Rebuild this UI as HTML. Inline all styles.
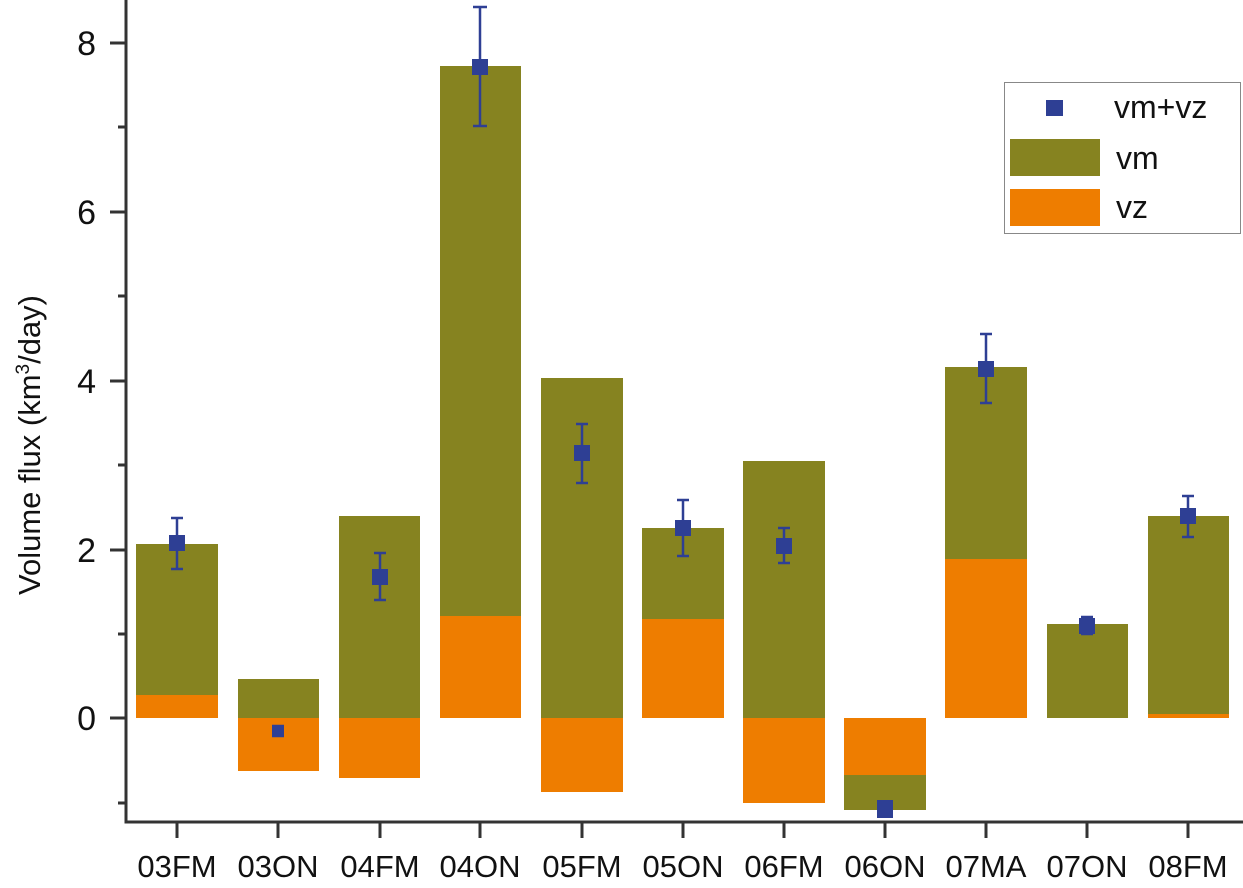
<!DOCTYPE html>
<html><head><style>body{margin:0;background:#fff}svg{display:block}text{font-family:"Liberation Sans",sans-serif;fill:#111}</style></head>
<body>
<svg width="1243" height="888" viewBox="0 0 1243 888">
<g stroke="none">
<rect x="136" y="544" width="82" height="151" fill="#868320"/><rect x="136" y="695" width="82" height="23" fill="#EE7D00"/>
<rect x="238" y="679" width="81" height="39" fill="#868320"/><rect x="238" y="718" width="81" height="53" fill="#EE7D00"/>
<rect x="339" y="516" width="81" height="202" fill="#868320"/><rect x="339" y="718" width="81" height="60" fill="#EE7D00"/>
<rect x="440" y="66" width="81" height="550" fill="#868320"/><rect x="440" y="616" width="81" height="102" fill="#EE7D00"/>
<rect x="541" y="378" width="82" height="340" fill="#868320"/><rect x="541" y="718" width="82" height="74" fill="#EE7D00"/>
<rect x="642" y="528" width="82" height="91" fill="#868320"/><rect x="642" y="619" width="82" height="99" fill="#EE7D00"/>
<rect x="743" y="461" width="82" height="257" fill="#868320"/><rect x="743" y="718" width="82" height="85" fill="#EE7D00"/>
<rect x="844" y="718" width="82" height="57" fill="#EE7D00"/><rect x="844" y="775" width="82" height="35" fill="#868320"/>
<rect x="945" y="367" width="82" height="192" fill="#868320"/><rect x="945" y="559" width="82" height="159" fill="#EE7D00"/>
<rect x="1047" y="624" width="81" height="94" fill="#868320"/>
<rect x="1148" y="516" width="81" height="198" fill="#868320"/><rect x="1148" y="714" width="81" height="4" fill="#EE7D00"/>
</g>
<g stroke="#2E3F94" stroke-width="2.5">
<path d="M177 518V569M171 518h12M171 569h12"/>
<path d="M278 726V736M272 726h12M272 736h12"/>
<path d="M380 553V600M374 553h12M374 600h12"/>
<path d="M480 7V126M473 7h14M473 126h14"/>
<path d="M582 424V483M576 424h12M576 483h12"/>
<path d="M683 500V556M677 500h12M677 556h12"/>
<path d="M784 528V563M778 528h12M778 563h12"/>
<path d="M986 334V403M980 334h12M980 403h12"/>
<path d="M1087 617V634M1081 617h12M1081 634h12"/>
<path d="M1188 496V537M1182 496h12M1182 537h12"/>
</g>
<g fill="#2E3F94">
<rect x="169" y="535" width="16" height="16"/>
<rect x="272" y="725" width="12" height="12"/>
<rect x="372" y="569" width="16" height="16"/>
<rect x="472" y="59" width="16" height="16"/>
<rect x="574" y="445" width="16" height="16"/>
<rect x="675" y="520" width="16" height="16"/>
<rect x="776" y="538" width="16" height="16"/>
<rect x="877" y="800" width="16" height="18"/>
<rect x="978" y="361" width="16" height="16"/>
<rect x="1079" y="618" width="16" height="16"/>
<rect x="1180" y="508" width="16" height="16"/>
</g>
<g stroke="#333" stroke-width="3" fill="none">
<path d="M126 0V822H1243"/>
<path d="M110 43h16M110 212h16M110 381h16M110 550h16M110 718h16"/>
<path d="M118 127h8M118 296h8M118 465h8M118 634h8M118 803h8"/>
<path d="M177 822v16M278 822v16M380 822v16M480 822v16M582 822v16M683 822v16M784 822v16M885 822v16M986 822v16M1087 822v16M1188 822v16"/>
</g>
<g font-size="34" text-anchor="end">
<text x="96" y="55">8</text><text x="96" y="224">6</text><text x="96" y="393">4</text><text x="96" y="562">2</text><text x="96" y="730">0</text>
</g>
<g font-size="31" text-anchor="middle">
<text x="177" y="877">03FM</text><text x="278" y="877">03ON</text><text x="380" y="877">04FM</text><text x="480" y="877">04ON</text><text x="582" y="877">05FM</text><text x="683" y="877">05ON</text><text x="784" y="877">06FM</text><text x="885" y="877">06ON</text><text x="986" y="877">07MA</text><text x="1087" y="877">07ON</text><text x="1188" y="877">08FM</text>
</g>
<text font-size="31" text-anchor="middle" transform="translate(40 445) rotate(-90)">Volume flux (km<tspan font-size="19" dy="-11">3</tspan><tspan dy="11">/day)</tspan></text>
<rect x="1004.5" y="82.5" width="236" height="151" fill="#fff" stroke="#888" stroke-width="1"/>
<rect x="1046" y="100" width="17" height="16" fill="#2E3F94"/>
<rect x="1010" y="139" width="90" height="37" fill="#868320"/>
<rect x="1010" y="189" width="90" height="37" fill="#EE7D00"/>
<g font-size="32"><text x="1114" y="118">vm+vz</text><text x="1116" y="169">vm</text><text x="1116" y="218">vz</text></g>
</svg>
</body></html>
